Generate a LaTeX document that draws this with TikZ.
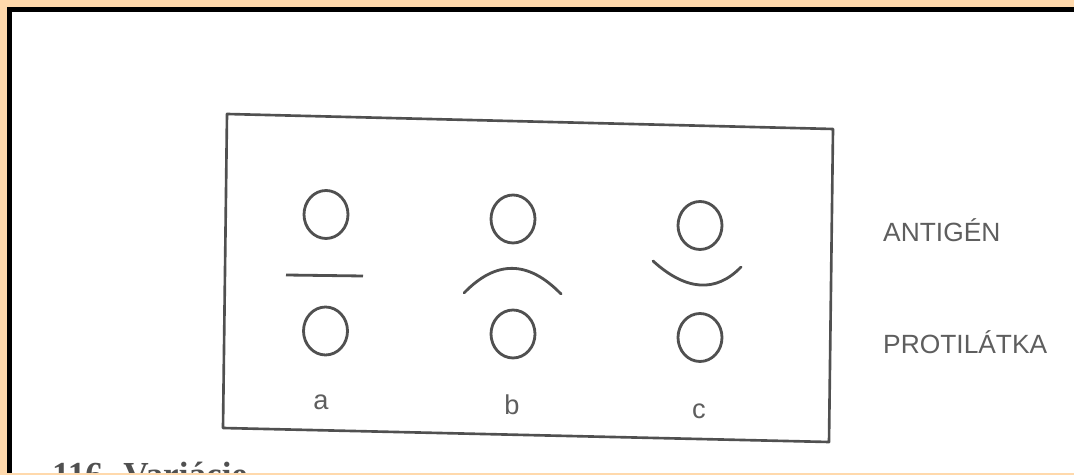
\documentclass[tikz,border=0pt]{standalone}
\usepackage{fontspec}
\setmainfont{Liberation Serif}
\newfontfamily\labelfont{Liberation Sans}
\usetikzlibrary{shapes.geometric}
\definecolor{Peach}{HTML}{FFD9AC}
\definecolor{Ink}{HTML}{505050}
\definecolor{InkText}{HTML}{5E5E5E}

\begin{document}
\begin{tikzpicture}[x=0.02cm,y=-0.02cm]
    \tikzset{ring/.style={ellipse,draw=Ink,line width=1.6pt,inner sep=0pt,
      minimum width=0.88cm,minimum height=0.96cm},
      tag/.style={anchor=base,font=\labelfont\fontsize{15.5}{18}\selectfont,text=InkText},
      side/.style={anchor=base west,font=\labelfont\fontsize{15}{18}\selectfont,text=InkText}}
    \useasboundingbox (0,0) rectangle (1074,475);

    % page frame
    \fill[Peach] (0,0) rectangle (1074,475);
    \fill[white] (12,12) rectangle (1074,473);
    \fill[black] (7,7) rectangle (1074,12);
    \fill[black] (7,7) rectangle (12,473);

    % panel
    \draw[Ink,line width=1.5pt,line join=round] (227,114) -- (833,129) -- (829,442) -- (223,428) -- cycle;

    \foreach \x/\y/\id in {326/214.5/atop,325.5/331/abot,513/219/btop,
                             513/334/bbot,700/225.5/ctop,700/337.5/cbot}{
      \node[ring] (\id) at (\x,\y) {};
    }

    % a: flat
    \draw[Ink,line width=1.6pt] (286,275) -- (363,276);
    % b: arched up
    \draw[Ink,line width=1.6pt,line cap=round] (464,293) .. controls (496,260) and (528,260) .. (561,294);
    % c: arched down
    \draw[Ink,line width=1.6pt,line cap=round] (653,261) .. controls (686,291) and (716,293) .. (741,267);

    \node[tag] (la) at (321,410) {a};
    \node[tag] (lb) at (512,415) {b};
    \node[tag] (lc) at (699,419) {c};

    \node[side] (antigen) at (877,242) {ANTIGÉN};
    \node[side] (protilatka) at (877,354) {PROTILÁTKA};

    % caption, cut off by the page edge
    \begin{scope}
      \clip (12,12) rectangle (1074,473);
      \node[anchor=base west,font=\bfseries\fontsize{20}{24}\selectfont,text=Ink] (caption) at (46,487) {116. Variácie};
    \end{scope}
  \end{tikzpicture}
\end{document}
